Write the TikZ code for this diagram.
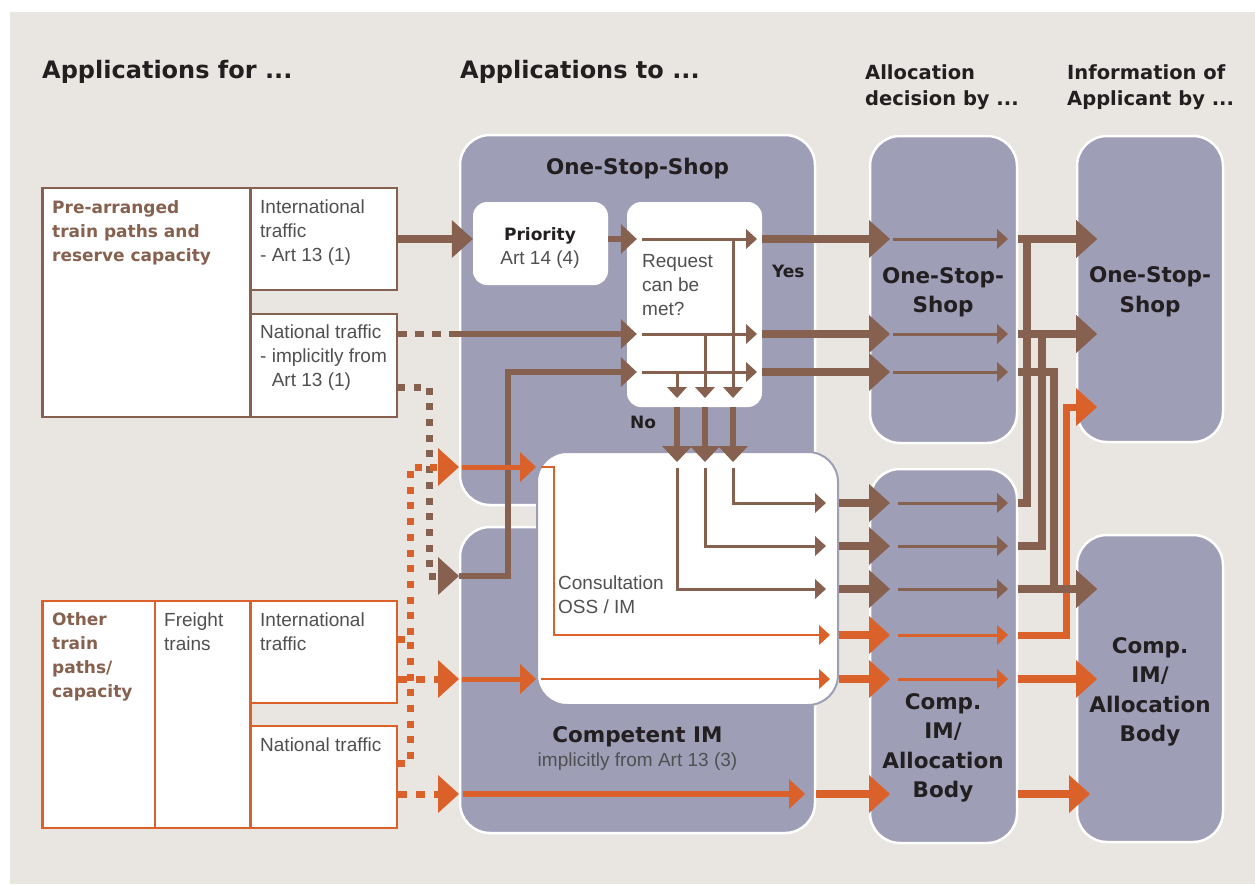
\documentclass[tikz,border=0pt]{standalone}
\usepackage{fontspec}
\setmainfont{Liberation Sans}
\newfontfamily\dvs{DejaVu Sans}
\usetikzlibrary{arrows.meta,fit,calc}
\definecolor{bgc}{HTML}{E9E5E1}
\definecolor{purp}{HTML}{9E9EB7}
\definecolor{brn}{HTML}{87614F}
\definecolor{org}{HTML}{DA6129}
\definecolor{gtx}{HTML}{505050}
\definecolor{dtx}{HTML}{231F20}
\begin{document}
\begin{tikzpicture}[x=1pt,y=-1pt,
  panel/.style={fill=purp,draw=white,line width=2.5pt,rounded corners=30pt,inner sep=0pt},
  wbox/.style={fill=white,rounded corners=14pt,inner sep=0pt},
  cbox/.style={fill=white,draw=purp,line width=2pt,rounded corners=30pt,inner sep=0pt},
  lbox/.style={draw=brn,fill=white,line width=2.5pt,inner sep=0pt},
  obox/.style={draw=org,fill=white,line width=2.5pt,inner sep=0pt},
  hdr/.style={font=\dvs\bfseries\fontsize{24}{28}\selectfont,text=dtx,anchor=base west,inner sep=0pt},
  hdrb/.style={font=\dvs\bfseries\fontsize{19.5}{26}\selectfont,text=dtx,anchor=base west,align=left,inner sep=0pt},
  blab/.style={font=\dvs\bfseries\fontsize{17}{24}\selectfont,text=brn,anchor=base west,align=left,inner sep=0pt},
  klab/.style={font=\dvs\bfseries\fontsize{17}{24}\selectfont,text=dtx,inner sep=0pt},
  glab/.style={font=\fontsize{19}{24}\selectfont,text=gtx,anchor=base west,align=left,inner sep=0pt},
  dlab/.style={font=\dvs\bfseries\fontsize{21.5}{29.5}\selectfont,text=dtx,anchor=base,align=center,inner sep=0pt},
  tipBig/.style={-{Triangle[length=21pt,width=38pt,line width=0pt]}},
  tipMid/.style={-{Triangle[length=16pt,width=30pt,line width=0pt]}},
  tipThin/.style={-{Triangle[length=11pt,width=20pt,line width=0pt]}},
  arrBig/.style={line width=8pt,tipBig},
  arrMid/.style={line width=6pt,tipMid},
  arrThin/.style={line width=3pt,tipThin},
  sqdot/.style={line width=7pt,dash pattern=on 7pt off 8.7pt},
  bdash/.style={line width=6pt,dash pattern=on 9pt off 8pt},
  odash/.style={line width=7pt,dash pattern=on 9pt off 9pt}]
\useasboundingbox (0,0) rectangle (1255,884);
\fill[white] (0,0) rectangle (1255,884);
\fill[bgc] (10,12) rectangle (1255,884);
% rows and columns
\coordinate (yA) at (0,239); \coordinate (yB) at (0,334); \coordinate (yC) at (0,372);
\coordinate (yD) at (0,387); \coordinate (yE) at (0,576); \coordinate (yF) at (0,467);
\coordinate (yG) at (0,503); \coordinate (yH) at (0,546); \coordinate (yI) at (0,589);
\coordinate (yJ) at (0,635); \coordinate (yK) at (0,679); \coordinate (yL) at (0,794);
\coordinate (yM) at (0,639); \coordinate (yN) at (0,763); \coordinate (yO) at (0,407);
\coordinate (yRb) at (0,398); \coordinate (yCt) at (0,462); \coordinate (yCs) at (0,468);
\coordinate (xDot) at (429,0); \coordinate (xOD) at (410,0); \coordinate (xPan) at (459,0);
\coordinate (xDash) at (452,0); \coordinate (xUp) at (508,0);
\coordinate (xRi) at (642,0); \coordinate (xRo) at (757,0);
\coordinate (xN1) at (677,0); \coordinate (xN2) at (705,0); \coordinate (xN3) at (733,0);
\coordinate (xOi) at (541,0); \coordinate (xOv) at (554,0);
\coordinate (xCo) at (826,0); \coordinate (xCo2) at (830,0); \coordinate (xL) at (805,0);
\coordinate (xAT) at (890,0); \coordinate (xAl) at (893,0); \coordinate (xAl2) at (898,0); \coordinate (xAr) at (1008,0);
\coordinate (xV1) at (1027,0); \coordinate (xV2) at (1042,0); \coordinate (xV3) at (1054,0); \coordinate (xV4) at (1066,0);
\coordinate (xIT) at (1097,0); \coordinate (xIT2) at (1090,0);
% headers
\node[hdr] (h1) at (42,78) {Applications for ...};
\node[hdr] (h2) at (460,78) {Applications to ...};
\node[hdrb] (h3) at (865,105) {Allocation\\decision by ...};
\node[hdrb] (h4) at (1067,105) {Information of\\Applicant by ...};
% panels
\node[panel, fit={(460,135)(815,505)}] (ossP) {};
\node[panel, fit={(460,527)(815,833)}] (imP) {};
\node[cbox, fit={(537,452)(838,705)}] (cons) {};
\node[wbox, fit={(473,202)(608,285)}] (prio) {};
\node[wbox, fit={(627,202)(762,407)}] (req) {};
\node[panel, fit={(870,136)(1017,443)}] (aTop) {};
\node[panel, fit={(870,469)(1017,843)}] (aBot) {};
\node[panel, fit={(1077,136)(1223,442)}] (iTop) {};
\node[panel, fit={(1077,535)(1223,842)}] (iBot) {};
% left boxes
\node[lbox, fit={(42.5,188)(250.5,417)}] (pBig) {};
\node[lbox, fit={(250.5,188)(397,290)}] (pInt) {};
\node[lbox, fit={(250.5,314)(397,417)}] (pNat) {};
\node[obox, fit={(42.5,601)(155,828)}] (oBig) {};
\node[obox, fit={(155,601)(250.5,828)}] (oFr) {};
\node[obox, fit={(250.5,601)(397,703)}] (oInt) {};
\node[obox, fit={(250.5,726)(397,828)}] (oNat) {};
% texts (multi-line nodes: base = last line)
\node[blab] (tPre) at (52,261) {Pre-arranged\\train paths and\\reserve capacity};
\node[glab] (tPI) at (260,261) {International\\traffic\\- Art 13 (1)};
\node[glab] (tPN) at (260,386) {National traffic\\- implicitly from\\\phantom{- }Art 13 (1)};
\node[blab] (tOth) at (52,697) {Other\\train\\paths/\\capacity};
\node[glab] (tFr) at (164,650) {Freight\\trains};
\node[glab] (tOI) at (260,650) {International\\traffic};
\node[glab] (tON) at (260,751) {National traffic};
\node[dlab] (tOSS) at (637.5,174) {One-Stop-Shop};
\node[klab, anchor=base] (tPr) at (540,240) {Priority};
\node[glab, anchor=base] (tPr2) at (540,264) {Art 14 (4)};
\node[glab] (tReq) at (642,315) {Request\\can be\\met?};
\node[klab, anchor=base west] (tYes) at (772,277) {Yes};
\node[klab, anchor=base west] (tNo) at (630,428) {No};
\node[glab] (tCons) at (558,613) {Consultation\\OSS / IM};
\node[dlab] (tCIM) at (637.5,742) {Competent IM};
\node[glab, anchor=base] (tCIM2) at (637.5,766) {implicitly from Art 13 (3)};
\node[dlab] (tAT) at (943,312.5) {One-Stop-\\Shop};
\node[dlab] (tIT) at (1150,312) {One-Stop-\\Shop};
\node[dlab] (tAB) at (943,797.5) {Comp.\\IM/\\Allocation\\Body};
\node[dlab] (tIB) at (1150,741.5) {Comp.\\IM/\\Allocation\\Body};
% pre-arranged inputs
\draw[brn, arrBig] (pInt.east |- yA) -- (prio.west |- yA);
\draw[brn, arrMid] (prio.east |- yA) -- ($(req.west |- yA)+(10,0)$);
\draw[brn, bdash] (pNat.east |- yB) -- (xDash |- yB);
\draw[brn, arrMid] (xDash |- yB) -- ($(req.west |- yB)+(10,0)$);
\draw[brn, sqdot, tipBig] (pNat.east |- yD) -- (xDot |- yD) -- (xDot |- yE) -- (xPan |- yE);
\draw[brn, arrMid] (xPan |- yE) -- (xUp |- yE) -- (xUp |- yC) -- ($(req.west |- yC)+(10,0)$);
% request internals
\draw[brn, arrThin] (xRi |- yA) -- (xRo |- yA);
\draw[brn, arrThin] (xRi |- yB) -- (xRo |- yB);
\draw[brn, arrThin] (xRi |- yC) -- (xRo |- yC);
\draw[brn, arrThin] (xN3 |- yA) -- (xN3 |- yRb);
\draw[brn, arrThin] (xN2 |- yB) -- (xN2 |- yRb);
\draw[brn, arrThin] (xN1 |- yC) -- (xN1 |- yRb);
% no -> consultation
\draw[brn, arrMid] (xN1 |- req.south) -- (xN1 |- yCt);
\draw[brn, arrMid] (xN2 |- req.south) -- (xN2 |- yCt);
\draw[brn, arrMid] (xN3 |- req.south) -- (xN3 |- yCt);
\draw[brn, arrThin] (xN3 |- yCs) -- (xN3 |- yG) -- (xCo |- yG);
\draw[brn, arrThin] (xN2 |- yCs) -- (xN2 |- yH) -- (xCo |- yH);
\draw[brn, arrThin] (xN1 |- yCs) -- (xN1 |- yI) -- (xCo |- yI);
% orange inputs
\draw[org, sqdot, tipBig] (oInt.east |- yM) -- (xOD |- yM) -- (xOD |- yF) -- (xPan |- yF);
\draw[org, sqdot] (oNat.east |- yN) -- (xOD |- yN) -- (xOD |- yM);
\draw[org, odash, tipBig] (oInt.east |- yK) -- (xPan |- yK);
\draw[org, odash, tipBig] (oNat.east |- yL) -- (xPan |- yL);
\draw[org, line width=5pt, tipMid] ($(xPan |- yF)+(3,0)$) -- (cons.west |- yF);
\draw[org, line width=5pt, tipMid] ($(xPan |- yK)+(3,0)$) -- (cons.west |- yK);
\draw[org, line width=6pt, tipMid] ($(xPan |- yL)+(4,0)$) -- (xL |- yL);
\draw[org, line width=2.5pt, tipThin] (xOi |- yF) -- (xOv |- yF) -- (xOv |- yJ) -- (xCo2 |- yJ);
\draw[org, line width=2.5pt, tipThin] (xOi |- yK) -- (xCo2 |- yK);
% to allocation
\draw[brn, arrBig] (req.east |- yA) -- (xAT |- yA);
\draw[brn, arrBig] (req.east |- yB) -- (xAT |- yB);
\draw[brn, arrBig] (req.east |- yC) -- (xAT |- yC);
\draw[brn, arrBig] (cons.east |- yG) -- (xAT |- yG);
\draw[brn, arrBig] (cons.east |- yH) -- (xAT |- yH);
\draw[brn, arrBig] (cons.east |- yI) -- (xAT |- yI);
\draw[org, arrBig] (cons.east |- yJ) -- (xAT |- yJ);
\draw[org, arrBig] (cons.east |- yK) -- (xAT |- yK);
\draw[org, arrBig] (imP.east |- yL) -- (xAT |- yL);
% allocation internals
\draw[brn, arrThin] (xAl |- yA) -- (xAr |- yA);
\draw[brn, arrThin] (xAl |- yB) -- (xAr |- yB);
\draw[brn, arrThin] (xAl |- yC) -- (xAr |- yC);
\draw[brn, arrThin] (xAl2 |- yG) -- (xAr |- yG);
\draw[brn, arrThin] (xAl2 |- yH) -- (xAr |- yH);
\draw[brn, arrThin] (xAl2 |- yI) -- (xAr |- yI);
\draw[org, arrThin] (xAl2 |- yJ) -- (xAr |- yJ);
\draw[org, arrThin] (xAl2 |- yK) -- (xAr |- yK);
% to information
\draw[org, line width=7pt, tipBig] (aBot.east |- yJ) -- (xV4 |- yJ) -- (xV4 |- yO) -- (xIT |- yO);
\draw[brn, arrBig] (aTop.east |- yA) -- (xIT |- yA);
\draw[brn, arrBig] (aBot.east |- yG) -- (xV1 |- yG) -- (xV1 |- yA) -- (xIT |- yA);
\draw[brn, arrBig] (aTop.east |- yB) -- (xIT |- yB);
\draw[brn, arrBig] (aBot.east |- yH) -- (xV2 |- yH) -- (xV2 |- yB) -- (xIT |- yB);
\draw[brn, arrBig] (aTop.east |- yC) -- (xV3 |- yC) -- (xV3 |- yI) -- (xIT |- yI);
\draw[brn, arrBig] (aBot.east |- yI) -- (xIT |- yI);
\draw[org, arrBig] (aBot.east |- yK) -- (xIT |- yK);
\draw[org, arrBig] (aBot.east |- yL) -- (xIT2 |- yL);
\end{tikzpicture}
\end{document}
